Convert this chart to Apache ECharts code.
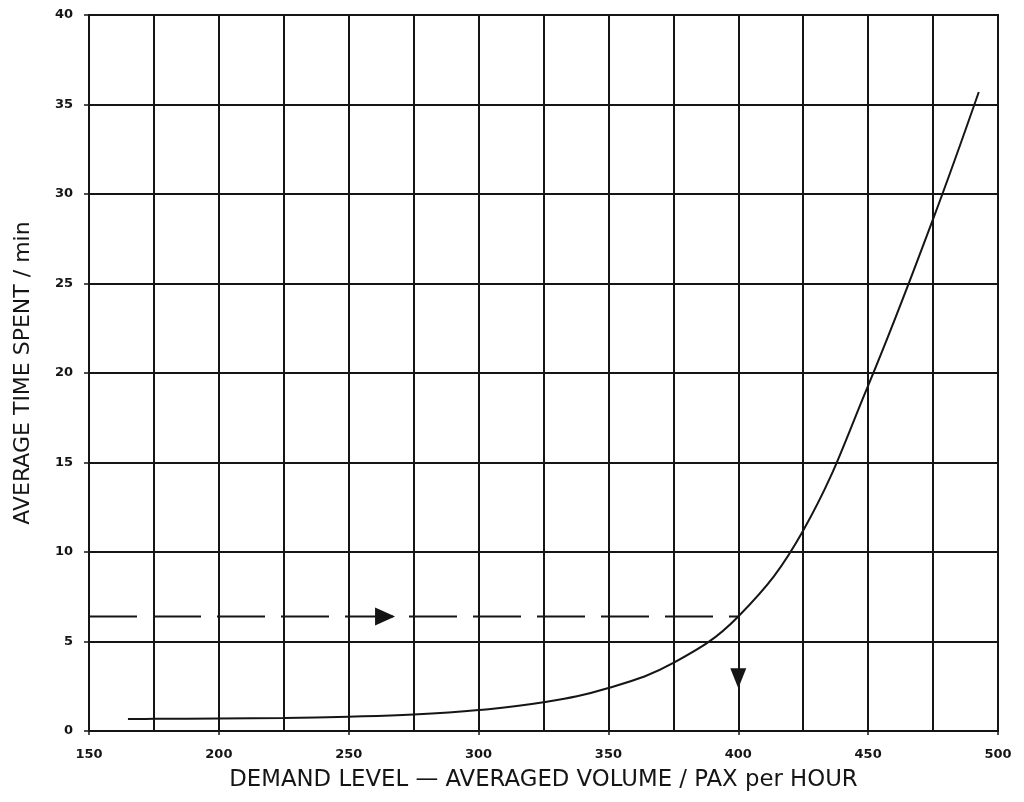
<!DOCTYPE html>
<html>
<head>
<meta charset="utf-8">
<script src="https://cdn.jsdelivr.net/npm/echarts@6/dist/echarts.min.js"></script>
<style>
html,body{margin:0;padding:0;background:#fff;}
#chart{width:1024px;height:802px;}
</style>
</head>
<body>
<div id="chart"></div>
<script>
// Demand level (pax per hour) and average time spent (min)
const demandLevels = [165, 175, 200, 225, 250, 275, 300, 325, 350, 375, 400, 425, 450, 475, 492.6];
const timeSpent   = [0.67, 0.68, 0.7, 0.73, 0.8, 0.92, 1.17, 1.6, 2.4, 3.8, 6.4, 11.2, 19.3, 28.6, 35.7];

// Reading guide: horizontal dashed line at the design time, arrows
const guideX = [150, 400];
const guideY = [6.4, 6.4];
const rightArrow = [264, 6.4];
const downArrow = [400, 2.95];

const xTicks = [150, 200, 250, 300, 350, 400, 450, 500];
const yTicks = [0, 5, 10, 15, 20, 25, 30, 35, 40];

const xTitle = 'DEMAND LEVEL \u2014 AVERAGED VOLUME / PAX per HOUR';
const yTitle = 'AVERAGE TIME SPENT / min';

const ink = '#151515';
const font = 'DejaVu Sans';

const chart = echarts.init(document.getElementById('chart'), null, {renderer: 'canvas'});
chart.setOption({
  backgroundColor: '#ffffff',
  animation: false,
  grid: {left: 89, right: 26, top: 15, bottom: 71, show: true, borderColor: ink, borderWidth: 2, backgroundColor: 'transparent'},
  xAxis: [{
    type: 'value', min: 150, max: 500, interval: 25,
    axisLine: {show: false},
    axisTick: {show: false},
    axisLabel: {show: false},
    splitLine: {show: true, lineStyle: {color: ink, width: 2}}
  }, {
    type: 'value', min: 150, max: 500, interval: 50, position: 'bottom',
    axisLine: {show: true, onZero: false, lineStyle: {color: ink, width: 2}},
    axisTick: {show: true, length: 4, lineStyle: {color: ink, width: 1.5}},
    axisLabel: {show: true, color: ink, fontFamily: font, fontSize: 13, fontWeight: 'bold', margin: 17,
      formatter: v => xTicks.indexOf(v) >= 0 ? String(v) : ''},
    splitLine: {show: false},
    name: xTitle, nameLocation: 'middle', nameGap: 38,
    nameTextStyle: {color: ink, fontFamily: font, fontSize: 22.8}
  }],
  yAxis: [{
    type: 'value', min: 0, max: 40, interval: 5,
    axisLine: {show: true, lineStyle: {color: ink, width: 2}},
    axisTick: {show: true, length: 5, lineStyle: {color: ink, width: 1.5}},
    axisLabel: {show: true, color: ink, fontFamily: font, fontSize: 13, fontWeight: 'bold', margin: 16,
      formatter: v => yTicks.indexOf(v) >= 0 ? String(v) : ''},
    splitLine: {show: true, lineStyle: {color: ink, width: 2}},
    name: yTitle, nameLocation: 'middle', nameGap: 55, nameRotate: 90,
    nameTextStyle: {color: ink, fontFamily: font, fontSize: 22}
  }],
  series: [{
    type: 'line', xAxisIndex: 0,
    data: demandLevels.map((x, i) => [x, timeSpent[i]]),
    smooth: 0.4, showSymbol: false, symbol: 'none',
    lineStyle: {color: ink, width: 2}
  }, {
    type: 'line', xAxisIndex: 0,
    data: guideX.map((x, i) => [x, guideY[i]]),
    showSymbol: false, symbol: 'none',
    lineStyle: {color: ink, width: 2, type: [48, 16]}
  }, {
    type: 'scatter', xAxisIndex: 0,
    data: [rightArrow], symbol: 'triangle', symbolRotate: -90, symbolSize: [18, 20],
    itemStyle: {color: ink, opacity: 1}
  }, {
    type: 'scatter', xAxisIndex: 0,
    data: [downArrow], symbol: 'triangle', symbolRotate: 180, symbolSize: [16, 20],
    itemStyle: {color: ink, opacity: 1}
  }]
});
</script>
</body>
</html>
